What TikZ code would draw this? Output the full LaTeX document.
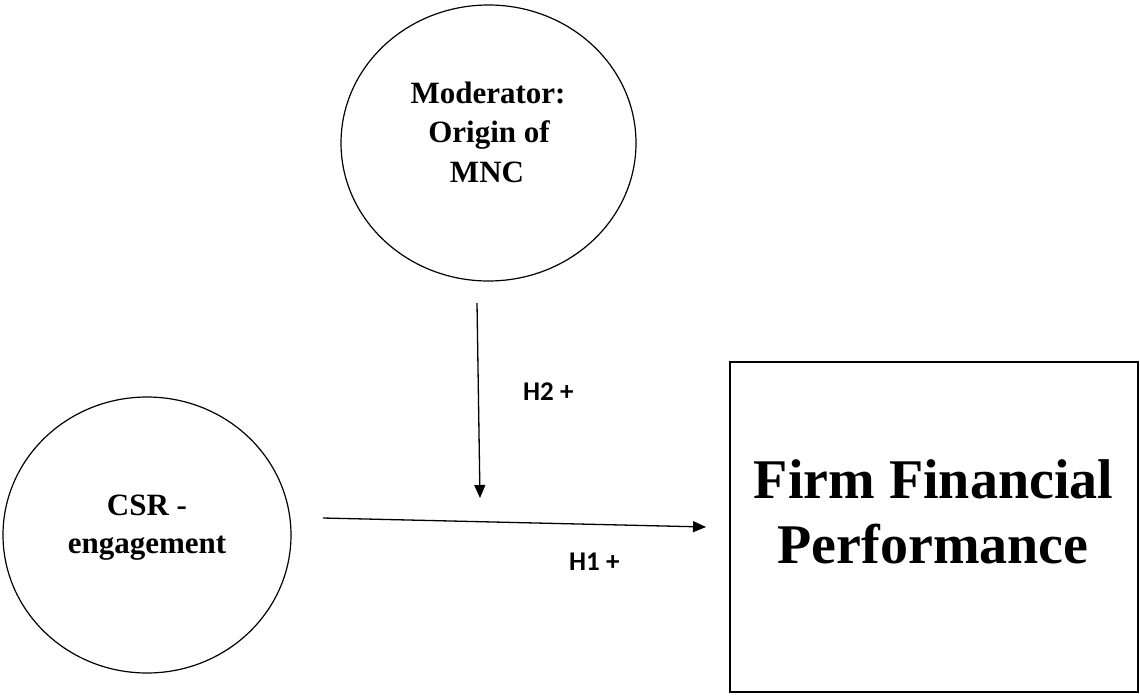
\documentclass[tikz,border=0pt]{standalone}
\usepackage{fontspec}
\setmainfont{Liberation Serif}
\newfontfamily\hfont{Carlito}
\usetikzlibrary{shapes.geometric,arrows.meta}
\begin{document}
\begin{tikzpicture}[x=1pt,y=-1pt,
  oval/.style={draw,ellipse,line width=1.2pt,inner sep=0pt,outer sep=0pt},
  box/.style={draw,rectangle,line width=1.2pt,inner sep=0pt,outer sep=0pt},
  ctext/.style={font=\bfseries\fontsize{31}{36}\selectfont,anchor=base,inner sep=0pt},
  btext/.style={font=\bfseries\fontsize{56}{60}\selectfont,anchor=base,inner sep=0pt},
  htext/.style={font=\hfont\bfseries\fontsize{27}{30}\selectfont,anchor=base west,inner sep=0pt},
  conn/.style={line width=1.3pt,-{Triangle[length=13pt,width=11pt]}}]
\useasboundingbox (0,0) rectangle (1140,696);
% shapes
\node[oval,minimum width=295pt,minimum height=276pt] (mod) at (488.5,143) {};
\node[oval,minimum width=288pt,minimum height=276pt] (csr) at (147,535) {};
\node[box,minimum width=408pt,minimum height=330pt] (ffp) at (934,527) {};
% texts
\node[ctext] (m1) at (488,103) {Moderator:};
\node[ctext] (m2) at (489,142) {Origin of};
\node[ctext] (m3) at (487,182) {MNC};
\node[ctext] (c1) at (147,515) {CSR -};
\node[ctext] (c2) at (147,553) {engagement};
\node[btext] (f1) at (933.5,498) {Firm Financial};
\node[btext] (f2) at (933,563) {Performance};
% connectors
\coordinate (v1) at (477,303);
\coordinate (v2) at (480,498);
\coordinate (h1) at (323,518);
\coordinate (h2) at (706,527);
\draw[conn] (v1) -- (v2);
\draw[conn] (h1) -- (h2);
\node[htext] (lh2) at (523,400) {H2 +};
\node[htext] (lh1) at (569,570) {H1 +};
\end{tikzpicture}
\end{document}
